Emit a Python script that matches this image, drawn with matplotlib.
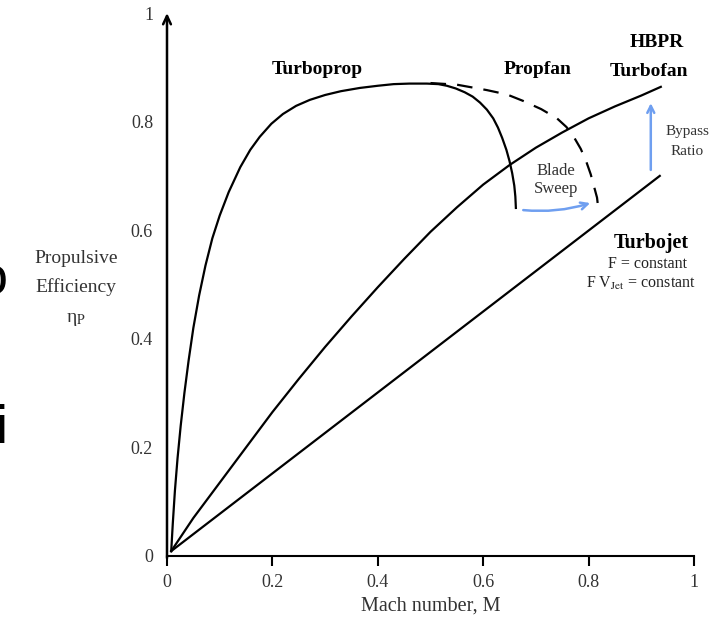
import matplotlib.pyplot as plt

plt.rcParams['font.family'] = ['Liberation Serif', 'DejaVu Serif']
plt.rcParams['mathtext.fontset'] = 'stix'

# Curvas (numero de Mach, eficiencia propulsiva)
turboprop_m = [0.008, 0.011, 0.015, 0.020, 0.026, 0.033, 0.041, 0.050, 0.061, 0.073,
               0.086, 0.100, 0.117, 0.139, 0.158, 0.176, 0.198, 0.22, 0.245, 0.271,
               0.30, 0.33, 0.366, 0.40, 0.43, 0.46, 0.493, 0.515, 0.531, 0.548,
               0.565, 0.58, 0.594, 0.607, 0.619, 0.628, 0.636, 0.644, 0.650, 0.655,
               0.659, 0.661, 0.662]
turboprop_eta = [0.009, 0.06, 0.12, 0.18, 0.24, 0.30, 0.36, 0.42, 0.48, 0.535,
                 0.585, 0.627, 0.670, 0.716, 0.748, 0.772, 0.796, 0.814, 0.829, 0.840,
                 0.849, 0.856, 0.862, 0.866, 0.869, 0.870, 0.870, 0.869, 0.866, 0.861,
                 0.854, 0.846, 0.835, 0.822, 0.806, 0.789, 0.770, 0.748, 0.727, 0.705,
                 0.682, 0.662, 0.641]

propfan_m = [0.50, 0.55, 0.607, 0.645, 0.676, 0.71, 0.74, 0.758, 0.773, 0.785,
             0.795, 0.804, 0.811, 0.816, 0.818]
propfan_eta = [0.871, 0.868, 0.858, 0.850, 0.838, 0.823, 0.806, 0.790, 0.770, 0.750,
               0.728, 0.703, 0.678, 0.660, 0.643]

turbofan_m = [0.008, 0.05, 0.1, 0.15, 0.2, 0.25, 0.3, 0.35, 0.4, 0.45,
              0.5, 0.55, 0.6, 0.65, 0.7, 0.75, 0.8, 0.85, 0.9, 0.937]
turbofan_eta = [0.009, 0.07, 0.135, 0.20, 0.265, 0.326, 0.385, 0.441, 0.495, 0.547,
                0.597, 0.642, 0.684, 0.72, 0.752, 0.780, 0.806, 0.828, 0.848, 0.864]

turbojet_m = [0.008, 0.935]
turbojet_eta = [0.009, 0.70]

ticks = [0, 0.2, 0.4, 0.6, 0.8, 1]
tick_labels = ['0', '0.2', '0.4', '0.6', '0.8', '1']

fig = plt.figure(figsize=(7.27, 6.23), dpi=100)
ax = fig.add_axes([167 / 727, 1 - 556 / 623, 527 / 727, 543 / 623])
ax.set_xlim(0, 1)
ax.set_ylim(0, 1)

for s in ['top', 'right', 'left']:
    ax.spines[s].set_visible(False)
ax.spines['bottom'].set_linewidth(1.5)

ax.set_xticks(ticks)
ax.set_xticklabels(tick_labels)
ax.set_yticks(ticks)
ax.set_yticklabels(tick_labels)
ax.tick_params(axis='x', direction='out', length=7, width=1.5, pad=6,
               labelsize=13, labelcolor='#333333')
ax.tick_params(axis='y', length=0, pad=10, labelsize=13, labelcolor='#333333')

# eje vertical con flecha
ax.annotate('', xy=(0, 1.0), xytext=(0, -0.004), xycoords='axes fraction',
            arrowprops=dict(arrowstyle='->,head_length=0.6,head_width=0.28',
                            lw=1.8, color='black', shrinkA=0, shrinkB=0))

ax.plot(turboprop_m, turboprop_eta, color='black', lw=1.6, clip_on=False)
ax.plot(propfan_m, propfan_eta, color='black', lw=1.6, dashes=(7, 5), clip_on=False)
ax.plot(turbofan_m, turbofan_eta, color='black', lw=1.6, clip_on=False)
ax.plot(turbojet_m, turbojet_eta, color='black', lw=1.6, clip_on=False)

# flechas azules
blue = '#6f9ff0'
ax.annotate('', xy=(0.803, 0.650), xytext=(0.676, 0.637),
            arrowprops=dict(arrowstyle='->,head_length=0.5,head_width=0.25', lw=1.8,
                            color=blue, shrinkA=0, shrinkB=0,
                            connectionstyle='arc3,rad=0.1'))
ax.annotate('', xy=(0.918, 0.834), xytext=(0.918, 0.711),
            arrowprops=dict(arrowstyle='->,head_length=0.5,head_width=0.25', lw=1.8,
                            color=blue, shrinkA=0, shrinkB=0))

# etiquetas
ax.text(0.285, 0.888, 'Turboprop', fontsize=14, fontweight='bold', ha='center', va='baseline')
ax.text(0.704, 0.888, 'Propfan', fontsize=14, fontweight='bold', ha='center', va='baseline')
ax.text(0.93, 0.937, 'HBPR', fontsize=14, fontweight='bold', ha='center', va='baseline')
ax.text(0.915, 0.884, 'Turbofan', fontsize=14, fontweight='bold', ha='center', va='baseline')
ax.text(0.987, 0.775, 'Bypass', fontsize=11, color='#333333', ha='center', va='baseline')
ax.text(0.987, 0.738, 'Ratio', fontsize=11, color='#333333', ha='center', va='baseline')
ax.text(0.738, 0.702, 'Blade', fontsize=12, color='#333333', ha='center', va='baseline')
ax.text(0.738, 0.668, 'Sweep', fontsize=12, color='#333333', ha='center', va='baseline')
ax.text(0.918, 0.567, 'Turbojet', fontsize=14.5, fontweight='bold', ha='center', va='baseline')
ax.text(0.911, 0.530, 'F = constant', fontsize=11.5, color='#222222', ha='center', va='baseline')
ax.text(0.90, 0.494, r'F V$_\mathrm{Jet}$ = constant', fontsize=11.5, color='#222222',
        ha='center', va='baseline')

ax.set_xlabel('Mach number, M', fontsize=14.5, color='#333333', labelpad=4)

fig.text(76 / 727, 1 - 263 / 623, 'Propulsive', fontsize=14, color='#333333', ha='center', va='baseline')
fig.text(76 / 727, 1 - 292 / 623, 'Efficiency', fontsize=14, color='#333333', ha='center', va='baseline')
fig.text(76 / 727, 1 - 322 / 623, r'η$_\mathrm{P}$', fontsize=14, color='#333333', ha='center', va='baseline')

# restos de texto cortados en el borde izquierdo
fig.text(8 / 727, 1 - 295 / 623, 'o', fontsize=39, family='Liberation Sans', ha='right', va='baseline')
fig.text(7 / 727, 1 - 443 / 623, 'i', fontsize=39, family='Liberation Sans', ha='right', va='baseline')

fig.savefig('out.png', dpi=100)
